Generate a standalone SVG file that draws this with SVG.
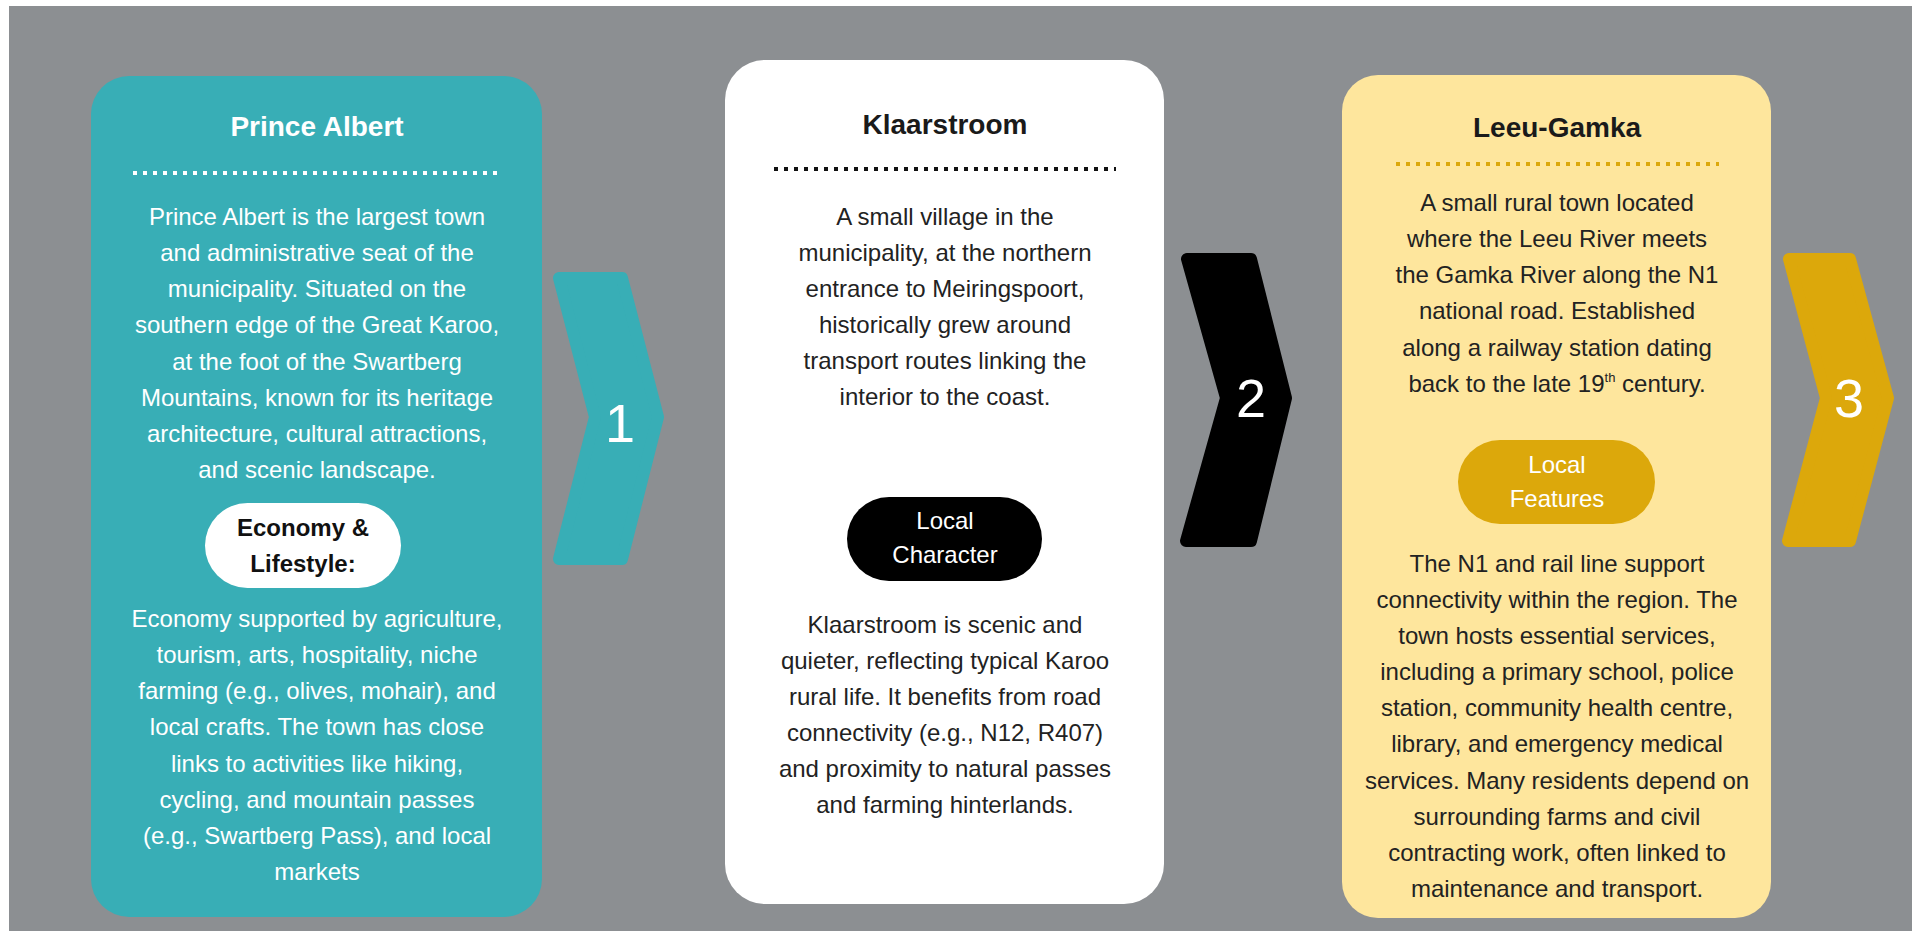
<svg xmlns="http://www.w3.org/2000/svg" width="1912" height="931" viewBox="0 0 1912 931">
<style>
  text { font-family: "Liberation Sans", Arial, sans-serif; text-anchor: middle; }
  .title { font-size: 28px; font-weight: bold; }
  .body { font-size: 24px; }
  .pill { font-size: 24px; }
  .num { font-size: 54px; fill: #ffffff; }
  .dots { stroke-width: 4; stroke-dasharray: 4 6; fill: none; }
  .chev { stroke-width: 12; stroke-linejoin: round; }
</style>
<rect x="0" y="0" width="1912" height="931" fill="#ffffff"/>
<rect x="9" y="6" width="1903" height="925" fill="#8c8f92"/>

<g id="connectors">
  <g id="chevron-1">
    <polygon class="chev" points="559,278 622,278 658,417 622,559 559,559 595,417" fill="#38aeb6" stroke="#38aeb6"/>
    <text class="num" x="620" y="442">1</text>
  </g>
  <g id="chevron-2">
    <polygon class="chev" points="1187,259 1251,259 1286,398 1251,541 1186,541 1226,398" fill="#000000" stroke="#000000"/>
    <text class="num" x="1251" y="417">2</text>
  </g>
  <g id="chevron-3">
    <polygon class="chev" points="1789,259 1850,259 1888,398 1850,541 1788,541 1826,398" fill="#dca80b" stroke="#dca80b"/>
    <text class="num" x="1849" y="417">3</text>
  </g>
</g>

<g id="node-prince-albert">
  <rect x="91" y="76" width="451" height="841" rx="38" fill="#38aeb6"/>
  <text class="title" x="317" y="136" fill="#ffffff">Prince Albert</text>
  <line class="dots" x1="133" y1="173" x2="503" y2="173" stroke="#ffffff"/>
  <g class="body" fill="#ffffff">
    <text class="body" x="317" y="225">Prince Albert is the largest town</text>
    <text class="body" x="317" y="261">and administrative seat of the</text>
    <text class="body" x="317" y="297">municipality. Situated on the</text>
    <text class="body" x="317" y="333">southern edge of the Great Karoo,</text>
    <text class="body" x="317" y="370">at the foot of the Swartberg</text>
    <text class="body" x="317" y="406">Mountains, known for its heritage</text>
    <text class="body" x="317" y="442">architecture, cultural attractions,</text>
    <text class="body" x="317" y="478">and scenic landscape.</text>
  </g>
  <rect x="205" y="503" width="196" height="85" rx="42.5" fill="#ffffff"/>
  <text class="pill" x="303" y="536" fill="#111111" font-weight="bold">Economy &amp;</text>
  <text class="pill" x="303" y="572" fill="#111111" font-weight="bold">Lifestyle:</text>
  <g fill="#ffffff">
    <text class="body" x="317" y="627">Economy supported by agriculture,</text>
    <text class="body" x="317" y="663">tourism, arts, hospitality, niche</text>
    <text class="body" x="317" y="699">farming (e.g., olives, mohair), and</text>
    <text class="body" x="317" y="735">local crafts. The town has close</text>
    <text class="body" x="317" y="772">links to activities like hiking,</text>
    <text class="body" x="317" y="808">cycling, and mountain passes</text>
    <text class="body" x="317" y="844">(e.g., Swartberg Pass), and local</text>
    <text class="body" x="317" y="880">markets</text>
  </g>
</g>

<g id="node-klaarstroom">
  <rect x="725" y="60" width="439" height="844" rx="40" fill="#ffffff"/>
  <text class="title" x="945" y="134" fill="#1a1a1a">Klaarstroom</text>
  <line class="dots" x1="774" y1="169" x2="1116" y2="169" stroke="#111111"/>
  <g fill="#222222">
    <text class="body" x="945" y="225">A small village in the</text>
    <text class="body" x="945" y="261">municipality, at the northern</text>
    <text class="body" x="945" y="297">entrance to Meiringspoort,</text>
    <text class="body" x="945" y="333">historically grew around</text>
    <text class="body" x="945" y="369">transport routes linking the</text>
    <text class="body" x="945" y="405">interior to the coast.</text>
  </g>
  <rect x="847" y="497" width="195" height="84" rx="42" fill="#000000"/>
  <text class="pill" x="945" y="529" fill="#ffffff">Local</text>
  <text class="pill" x="945" y="563" fill="#ffffff">Character</text>
  <g fill="#222222">
    <text class="body" x="945" y="633">Klaarstroom is scenic and</text>
    <text class="body" x="945" y="669">quieter, reflecting typical Karoo</text>
    <text class="body" x="945" y="705">rural life. It benefits from road</text>
    <text class="body" x="945" y="741">connectivity (e.g., N12, R407)</text>
    <text class="body" x="945" y="777">and proximity to natural passes</text>
    <text class="body" x="945" y="813">and farming hinterlands.</text>
  </g>
</g>

<g id="node-leeu-gamka">
  <rect x="1342" y="75" width="429" height="843" rx="36" fill="#fee69d"/>
  <text class="title" x="1557" y="137" fill="#1a1a1a">Leeu-Gamka</text>
  <line class="dots" x1="1396" y1="164" x2="1719" y2="164" stroke="#dca80b"/>
  <g fill="#222222">
    <text class="body" x="1557" y="211">A small rural town located</text>
    <text class="body" x="1557" y="247">where the Leeu River meets</text>
    <text class="body" x="1557" y="283">the Gamka River along the N1</text>
    <text class="body" x="1557" y="319">national road. Established</text>
    <text class="body" x="1557" y="356">along a railway station dating</text>
    <text class="body" x="1557" y="392">back to the late 19<tspan font-size="13" dy="-10">th</tspan><tspan dy="10"> century.</tspan></text>
  </g>
  <rect x="1458" y="440" width="197" height="84" rx="42" fill="#dca80b"/>
  <text class="pill" x="1557" y="473" fill="#ffffff">Local</text>
  <text class="pill" x="1557" y="507" fill="#ffffff">Features</text>
  <g fill="#222222">
    <text class="body" x="1557" y="572">The N1 and rail line support</text>
    <text class="body" x="1557" y="608">connectivity within the region. The</text>
    <text class="body" x="1557" y="644">town hosts essential services,</text>
    <text class="body" x="1557" y="680">including a primary school, police</text>
    <text class="body" x="1557" y="716">station, community health centre,</text>
    <text class="body" x="1557" y="752">library, and emergency medical</text>
    <text class="body" x="1557" y="789">services. Many residents depend on</text>
    <text class="body" x="1557" y="825">surrounding farms and civil</text>
    <text class="body" x="1557" y="861">contracting work, often linked to</text>
    <text class="body" x="1557" y="897">maintenance and transport.</text>
  </g>
</g>
</svg>
